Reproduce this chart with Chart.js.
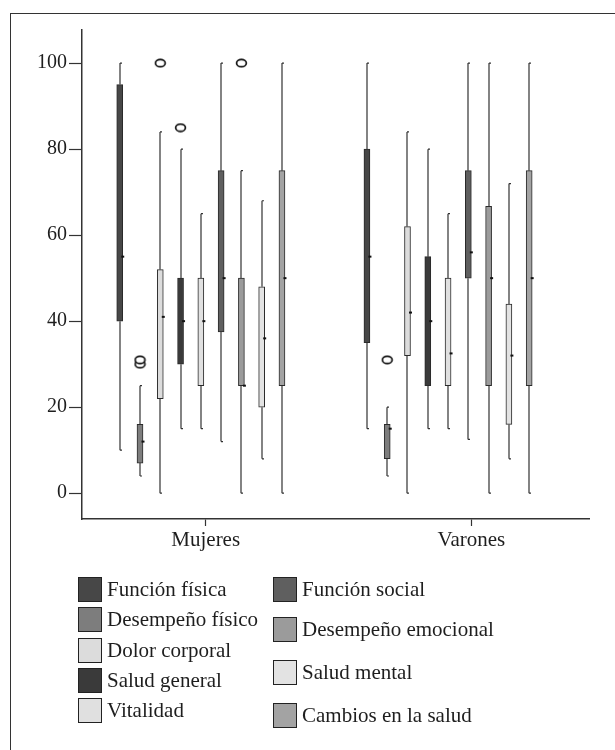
<!DOCTYPE html>
<html>
<head>
<meta charset="utf-8">
<script src="https://cdn.jsdelivr.net/npm/chart.js@4.4.1/dist/chart.umd.min.js"></script>
<style>
  html, body { margin: 0; padding: 0; background: #fff; overflow: hidden; }
  #wrap { position: relative; width: 615px; height: 750px; }
  #frame { position: absolute; left: 10px; top: 13px; width: 700px; height: 800px; border: 1.5px solid #333; box-sizing: border-box; }
  #chart { position: absolute; left: 0; top: 0; }
  .legend-item { position: absolute; display: flex; align-items: center; font-family: "Liberation Serif", "DejaVu Serif", serif; font-size: 21px; color: #1e1e1e; white-space: nowrap; }
  .legend-item .sw { width: 24px; height: 25px; border: 1.5px solid #222; box-sizing: border-box; margin-right: 5px; }
</style>
</head>
<body>
<div id="wrap">
  <div id="frame"></div>
  <canvas id="chart" width="615" height="750"></canvas>
  <div id="legend"></div>
</div>
<script>
// ---- data ----
const groups = ['Mujeres', 'Varones'];
const series = ['Función física', 'Desempeño físico', 'Dolor corporal', 'Salud general', 'Vitalidad',
  'Función social', 'Desempeño emocional', 'Salud mental', 'Cambios en la salud'];
const yTicks = [0, 20, 40, 60, 80, 100];

// Mujeres
const mujeresMin    = [10, 4, 0, 15, 15, 12, 0, 8, 0];
const mujeresQ1     = [40, 7, 22, 30, 25, 37.5, 25, 20, 25];
const mujeresMedian = [55, 12, 41, 40, 40, 50, 25, 36, 50];
const mujeresQ3     = [95, 16, 52, 50, 50, 75, 50, 48, 75];
const mujeresMax    = [100, 25, 84, 80, 65, 100, 75, 68, 100];
const mujeresOutliers = [[], [30, 31], [100], [85], [], [], [100], [], []];

// Varones
const varonesMin    = [15, 4, 0, 15, 15, 12.5, 0, 8, 0];
const varonesQ1     = [35, 8, 32, 25, 25, 50, 25, 16, 25];
const varonesMedian = [55, 15, 42, 40, 32.5, 56, 50, 32, 50];
const varonesQ3     = [80, 16, 62, 55, 50, 75, 66.7, 44, 75];
const varonesMax    = [100, 20, 84, 80, 65, 100, 100, 72, 100];
const varonesOutliers = [[], [31], [], [], [], [], [], [], []];

// ---- styling / layout ----
const colors = ['#474747', '#7d7d7d', '#dcdcdc', '#3a3a3a', '#e0e0e0', '#5f5f5f', '#9b9b9b', '#e3e3e3', '#a3a3a3'];
const groupStart = [1.86, 14.05];   // x position (box slots) of the first box in each group
const groupLabelPos = [6.1, 19.2];  // where the category tick sits
const serif = '"Liberation Serif", "DejaVu Serif", serif';

const mins = [mujeresMin, varonesMin];
const q1s = [mujeresQ1, varonesQ1];
const medians = [mujeresMedian, varonesMedian];
const q3s = [mujeresQ3, varonesQ3];
const maxs = [mujeresMax, varonesMax];
const outs = [mujeresOutliers, varonesOutliers];

// small open ellipse used as the outlier marker
const ring = document.createElement('canvas');
ring.width = 13;
ring.height = 10;
(function () {
  const c = ring.getContext('2d');
  c.beginPath();
  c.ellipse(6.5, 5, 4.9, 3.7, 0, 0, Math.PI * 2);
  c.fillStyle = '#fff';
  c.fill();
  c.lineWidth = 1.7;
  c.strokeStyle = '#111';
  c.stroke();
})();

const datasets = series.map((name, i) => ({
  label: name,
  data: groups.map((g, gi) => ({ x: groupStart[gi] + i, y: [q1s[gi][i], q3s[gi][i]] })),
  backgroundColor: colors[i],
  borderColor: '#2a2a2a',
  borderWidth: 1,
  borderSkipped: false,
  barThickness: 6,
  grouped: false
}));

const outlierPoints = [];
groups.forEach((g, gi) => {
  outs[gi].forEach((list, i) => {
    list.forEach(v => outlierPoints.push({ x: groupStart[gi] + i, y: v }));
  });
});
datasets.push({
  type: 'scatter',
  label: 'atípicos',
  data: outlierPoints,
  pointStyle: ring,
  pointRadius: 5
});

// whiskers behind the boxes, median marks on top
const boxPlotExtras = {
  id: 'boxPlotExtras',
  beforeDatasetsDraw(chart) {
    const ctx = chart.ctx;
    const y = chart.scales.y;
    ctx.save();
    ctx.strokeStyle = '#333';
    ctx.lineWidth = 1.2;
    series.forEach((s, i) => {
      chart.getDatasetMeta(i).data.forEach((bar, gi) => {
        const x = Math.round(bar.x);
        ctx.beginPath();
        ctx.moveTo(x, y.getPixelForValue(mins[gi][i]));
        ctx.lineTo(x, y.getPixelForValue(q1s[gi][i]));
        ctx.moveTo(x, y.getPixelForValue(q3s[gi][i]));
        ctx.lineTo(x, y.getPixelForValue(maxs[gi][i]));
        [mins[gi][i], maxs[gi][i]].forEach(v => {
          const py = y.getPixelForValue(v);
          ctx.moveTo(x, py);
          ctx.lineTo(x + 2, py);
        });
        ctx.stroke();
      });
    });
    ctx.restore();
  },
  afterDatasetsDraw(chart) {
    const ctx = chart.ctx;
    const y = chart.scales.y;
    ctx.save();
    ctx.fillStyle = '#111';
    series.forEach((s, i) => {
      chart.getDatasetMeta(i).data.forEach((bar, gi) => {
        const px = bar.x + bar.width / 2;
        const py = y.getPixelForValue(medians[gi][i]);
        ctx.fillRect(px - 1.5, py - 1, 3, 2);
      });
    });
    ctx.restore();
  }
};

new Chart(document.getElementById('chart'), {
  type: 'bar',
  data: { datasets: datasets },
  plugins: [boxPlotExtras],
  options: {
    responsive: false,
    animation: false,
    devicePixelRatio: 1,
    layout: { padding: { left: 0, top: 30, right: 26, bottom: 191 } },
    plugins: {
      legend: { display: false },
      tooltip: { enabled: false }
    },
    scales: {
      x: {
        type: 'linear',
        min: 0,
        max: 25,
        offset: false,
        afterBuildTicks: scale => { scale.ticks = groupLabelPos.map(v => ({ value: v })); },
        afterFit: scale => { scale.height = 40; },
        grid: { drawOnChartArea: false, offset: false, tickLength: 7, color: '#333', tickWidth: 1.2 },
        border: { display: true, color: '#333', width: 1.5 },
        ticks: {
          autoSkip: false,
          maxRotation: 0,
          padding: 2,
          color: '#1e1e1e',
          font: { family: serif, size: 21 },
          callback: (v, i) => groups[i]
        }
      },
      y: {
        min: -6,
        max: 107.7,
        afterBuildTicks: scale => { scale.ticks = yTicks.map(v => ({ value: v })); },
        afterFit: scale => { scale.width = 82; },
        grid: { drawOnChartArea: false, tickLength: 13, color: '#333', tickWidth: 1.2 },
        border: { display: true, color: '#333', width: 1.5 },
        ticks: {
          padding: 2,
          color: '#1e1e1e',
          font: { family: serif, size: 20 }
        }
      }
    }
  }
});

// ---- legend (two columns, as in the figure) ----
const legendCols = [
  { left: 78, tops: [577, 607, 638, 668, 698] },
  { left: 273, tops: [577, 617, 660, 703] }
];
const legendEl = document.getElementById('legend');
let k = 0;
legendCols.forEach(col => {
  col.tops.forEach(top => {
    const item = document.createElement('div');
    item.className = 'legend-item';
    item.style.left = col.left + 'px';
    item.style.top = top + 'px';
    item.innerHTML = '<span class="sw" style="background:' + colors[k] + '"></span><span>' + series[k] + '</span>';
    legendEl.appendChild(item);
    k++;
  });
});
</script>
</body>
</html>
